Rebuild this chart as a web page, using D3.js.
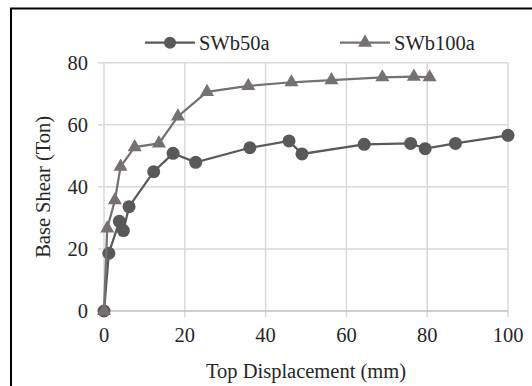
<!DOCTYPE html>
<html>
<head>
<meta charset="utf-8">
<script src="https://cdn.jsdelivr.net/npm/d3@7"></script>
<style>
  body { margin: 0; background: #fff; }
  text { font-family: "Liberation Serif", "Times New Roman", serif; fill: #262626; }
</style>
</head>
<body>
<svg id="chart" width="532" height="386"></svg>
<script>
// top displacement (mm) / base shear (ton)
const swb50aDisp  = [0, 1.2, 3.8, 4.8, 6.2, 12.3, 17.1, 22.7, 36.1, 45.8, 49.0, 64.4, 75.9, 79.5, 87.0, 100.0];
const swb50aShear = [0, 18.6, 28.9, 25.9, 33.6, 44.9, 50.8, 47.9, 52.6, 54.8, 50.6, 53.7, 54.0, 52.3, 54.0, 56.6];
const swb100aDisp  = [0, 0.8, 2.7, 4.1, 7.6, 13.6, 18.3, 25.5, 35.7, 46.4, 56.3, 68.9, 76.7, 80.6];
const swb100aShear = [0, 26.6, 35.7, 46.5, 52.8, 54.0, 62.7, 70.6, 72.5, 73.7, 74.4, 75.3, 75.5, 75.3];
const xTicks = [0, 20, 40, 60, 80, 100];
const yTicks = [0, 20, 40, 60, 80];
const seriesNames = ['SWb50a', 'SWb100a'];

const svg = d3.select('#chart');
const fontSize = 20.5;

const x = d3.scaleLinear().domain([0, 100]).range([104, 508]);
const y = d3.scaleLinear().domain([0, 80]).range([311, 62.7]);

// outer chart frame (runs off the right and bottom edge)
svg.append('rect')
  .attr('x', 11).attr('y', 8.5)
  .attr('width', 600).attr('height', 500)
  .attr('fill', 'none').attr('stroke', '#000').attr('stroke-width', 2);

// gridlines, extended a bit past the plot as tick marks
svg.append('g').selectAll('line').data(yTicks.filter(d => d !== 0)).enter()
  .append('line')
  .attr('x1', x(0) - 6).attr('x2', x(100))
  .attr('y1', d => y(d)).attr('y2', d => y(d))
  .attr('stroke', '#d9d9d9').attr('stroke-width', 1.5);

svg.append('g').selectAll('line').data(xTicks).enter()
  .append('line')
  .attr('x1', d => x(d)).attr('x2', d => x(d))
  .attr('y1', y(80)).attr('y2', y(0) + 6)
  .attr('stroke', '#d9d9d9').attr('stroke-width', 1.5);

// x axis line
svg.append('line')
  .attr('x1', x(0) - 6).attr('x2', x(100))
  .attr('y1', y(0)).attr('y2', y(0))
  .attr('stroke', '#bfbfbf').attr('stroke-width', 1.5);

// tick labels
svg.append('g').selectAll('text').data(yTicks).enter()
  .append('text')
  .attr('x', x(0) - 16).attr('y', d => y(d))
  .attr('dy', '0.35em')
  .attr('text-anchor', 'end')
  .attr('font-size', fontSize)
  .text(d => d);

svg.append('g').selectAll('text').data(xTicks).enter()
  .append('text')
  .attr('x', d => x(d)).attr('y', y(0) + 24)
  .attr('dy', '0.35em')
  .attr('text-anchor', 'middle')
  .attr('font-size', fontSize)
  .text(d => d);

// axis titles
svg.append('text')
  .attr('x', (x(0) + x(100)) / 2).attr('y', 371)
  .attr('dy', '0.35em')
  .attr('text-anchor', 'middle')
  .attr('font-size', fontSize)
  .text('Top Displacement (mm)');

svg.append('text')
  .attr('transform', `translate(43,${(y(0) + y(80)) / 2}) rotate(-90)`)
  .attr('dy', '0.35em')
  .attr('text-anchor', 'middle')
  .attr('font-size', fontSize)
  .text('Base Shear (Ton)');

const line = d3.line().x(d => x(d[0])).y(d => y(d[1]));
const triangle = d3.symbol().type(d3.symbolTriangle).size(85);

const s1 = swb50aDisp.map((d, i) => [d, swb50aShear[i]]);
const s2 = swb100aDisp.map((d, i) => [d, swb100aShear[i]]);

// SWb50a
svg.append('path').datum(s1)
  .attr('d', line)
  .attr('fill', 'none').attr('stroke', '#595959').attr('stroke-width', 2.25);
svg.append('g').selectAll('circle').data(s1).enter()
  .append('circle')
  .attr('cx', d => x(d[0])).attr('cy', d => y(d[1]))
  .attr('r', 6.5).attr('fill', '#595959');

// SWb100a
svg.append('path').datum(s2)
  .attr('d', line)
  .attr('fill', 'none').attr('stroke', '#767171').attr('stroke-width', 2.25);
svg.append('g').selectAll('path.tri').data(s2).enter()
  .append('path')
  .attr('class', 'tri')
  .attr('transform', d => `translate(${x(d[0])},${y(d[1])})`)
  .attr('d', triangle)
  .attr('fill', '#767171');

// legend
const legend = svg.append('g');
const legendItems = [
  { name: seriesNames[0], x0: 145, color: '#595959', shape: 'circle' },
  { name: seriesNames[1], x0: 340, color: '#767171', shape: 'triangle' }
];
legendItems.forEach(item => {
  const ly = 42.7;
  legend.append('line')
    .attr('x1', item.x0).attr('x2', item.x0 + 50)
    .attr('y1', ly).attr('y2', ly)
    .attr('stroke', item.color).attr('stroke-width', 2.25);
  if (item.shape === 'circle') {
    legend.append('circle')
      .attr('cx', item.x0 + 25).attr('cy', ly).attr('r', 6)
      .attr('fill', item.color);
  } else {
    legend.append('path')
      .attr('transform', `translate(${item.x0 + 25},${ly})`)
      .attr('d', triangle)
      .attr('fill', item.color);
  }
  legend.append('text')
    .attr('x', item.x0 + 54).attr('y', ly)
    .attr('dy', '0.35em')
    .attr('font-size', fontSize)
    .text(item.name);
});
</script>
</body>
</html>
